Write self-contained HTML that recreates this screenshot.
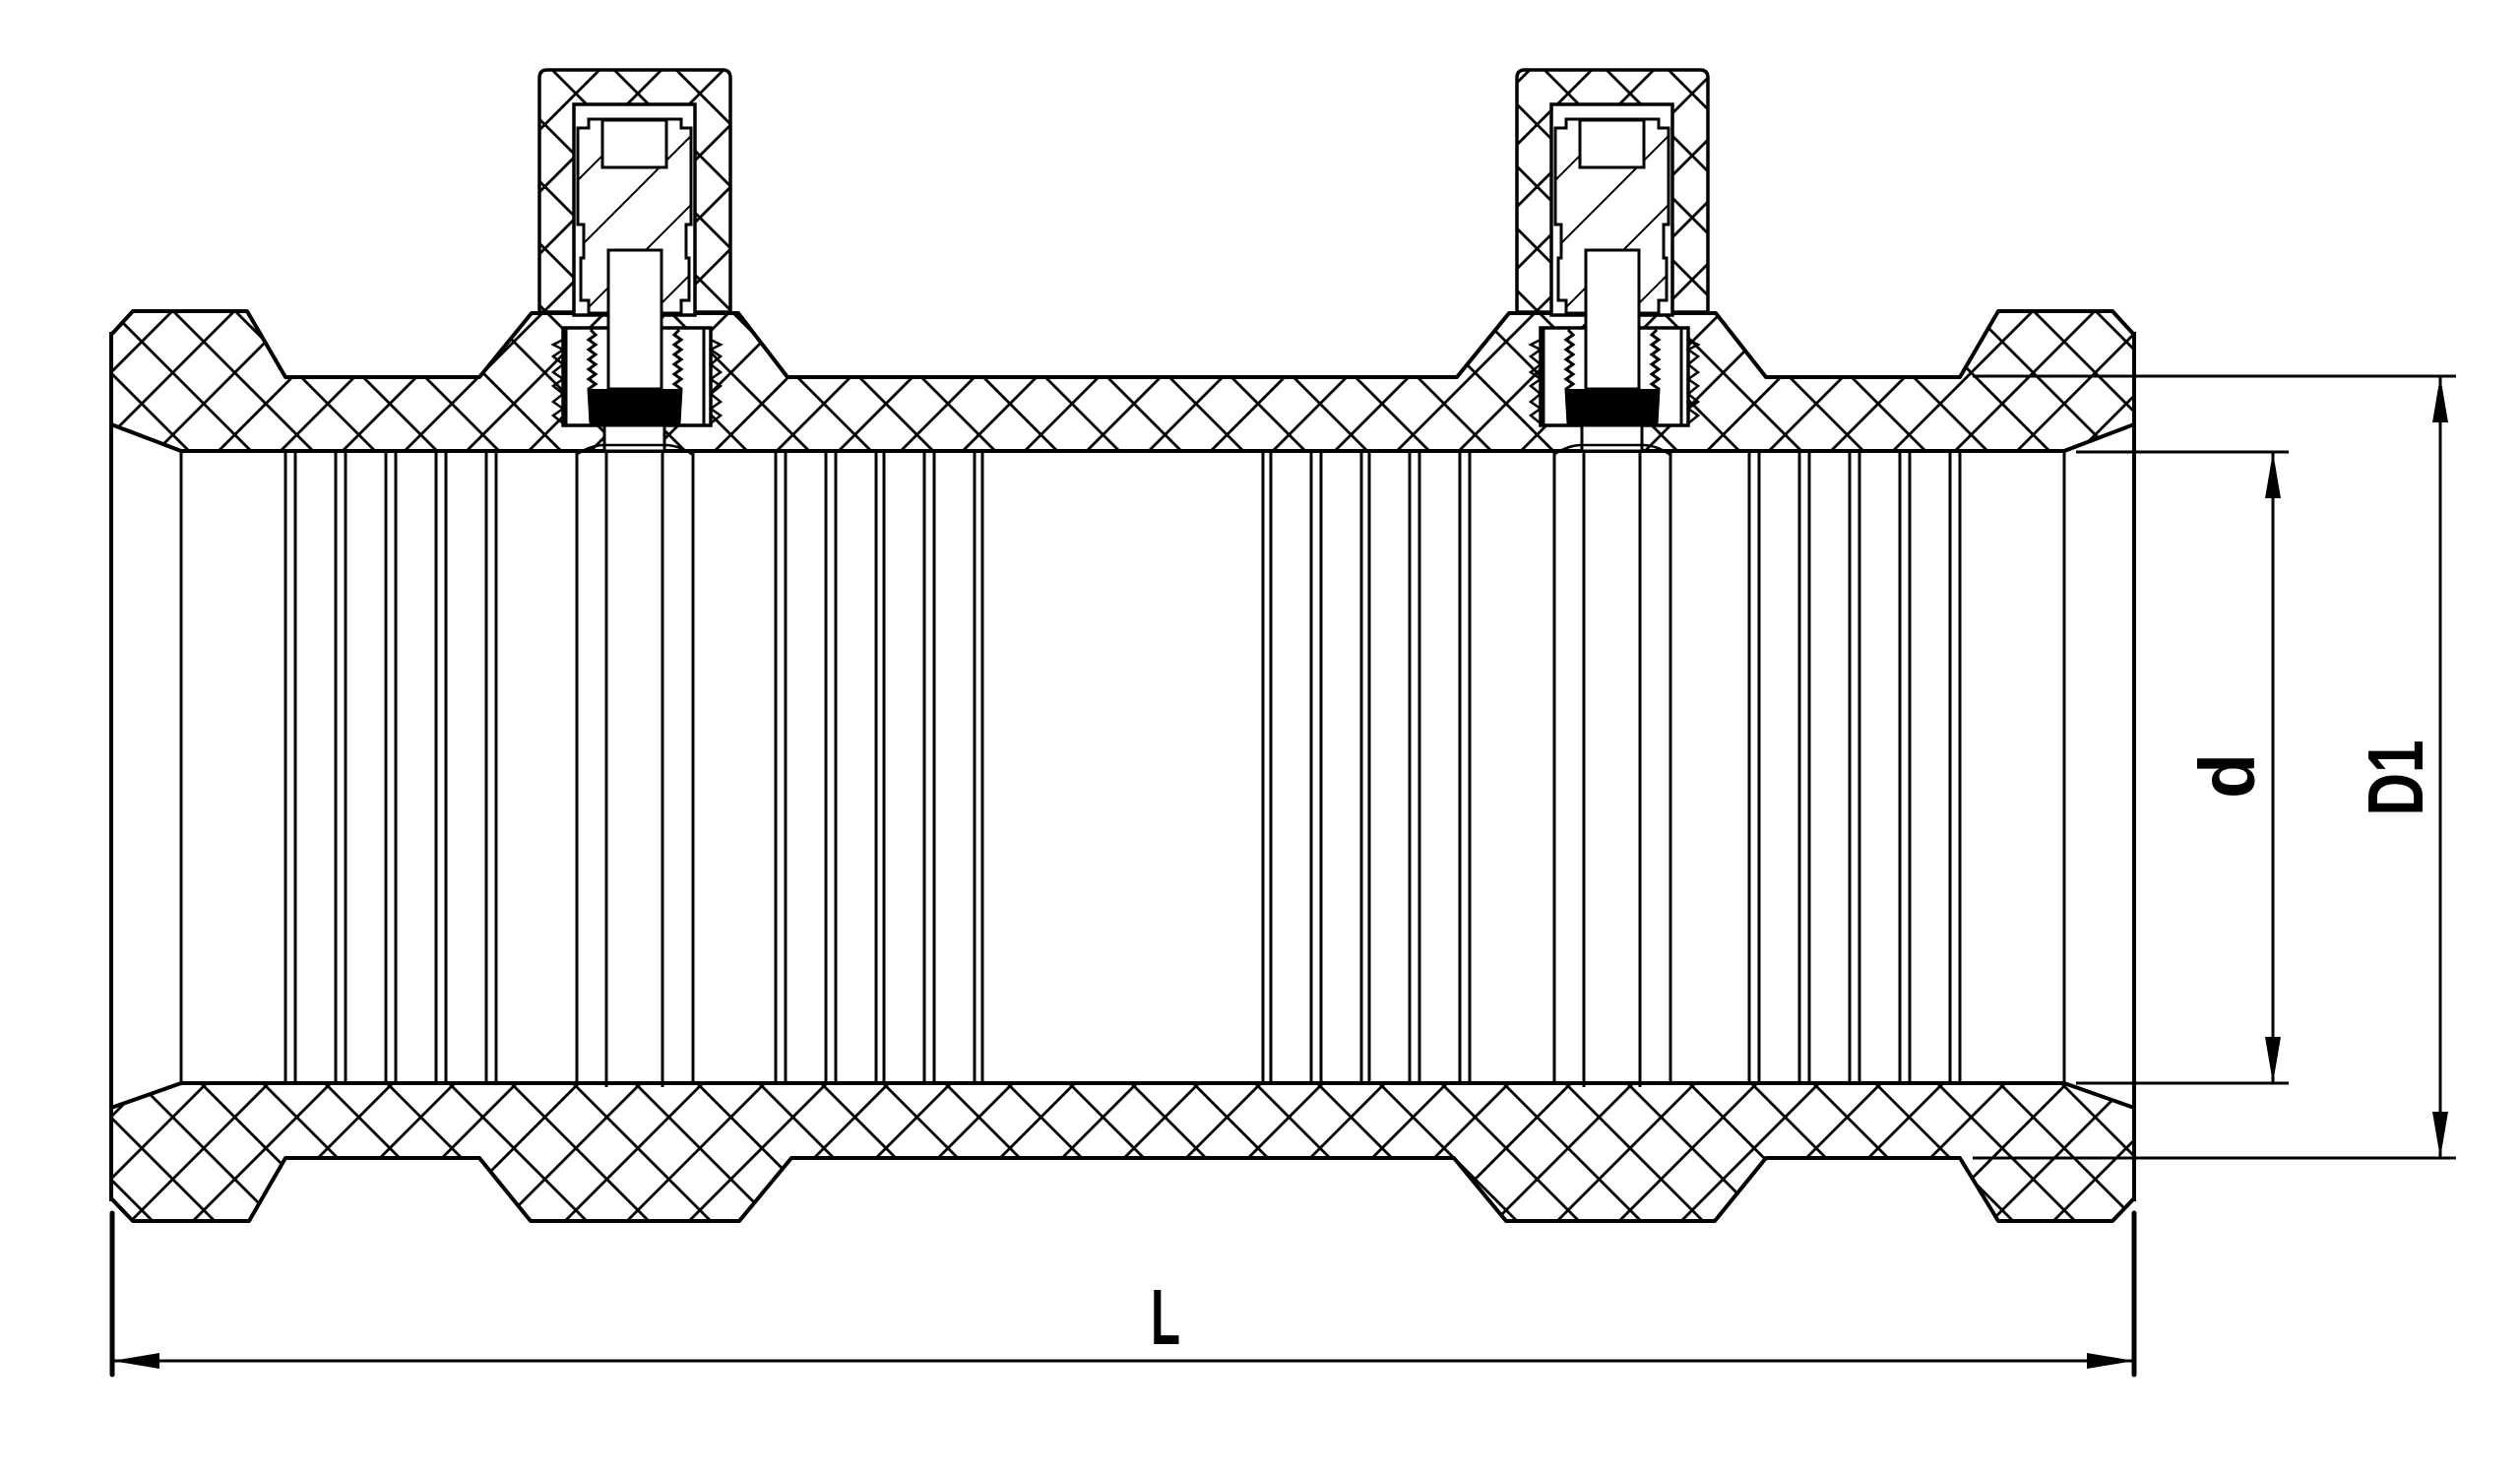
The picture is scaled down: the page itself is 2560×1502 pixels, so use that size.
<!DOCTYPE html>
<html><head><meta charset="utf-8"><style>
html,body{margin:0;padding:0;background:#fff;width:2560px;height:1502px;overflow:hidden;}
svg{display:block;overflow:hidden;}
</style></head><body>
<svg width="2560" height="1502" viewBox="0 0 2560 1502" xmlns="http://www.w3.org/2000/svg">
<defs>
<clipPath id="hc">
<path d="M113,340 L135,316 L251,316 L290,383 L487,383 L540,318 L750,318 L800,383 L1480,383 L1533,318 L1743,318 L1794,383 L1991,383 L2030,316 L2146,316 L2168,340 L2168,431 L2097,458 L184,458 L113,431 Z"/>
<path d="M113,1125 L184,1100 L2097,1100 L2168,1125 L2168,1217 L2146,1240 L2030,1240 L1991,1176 L1794,1176 L1742,1240 L1530,1240 L1477,1176 L804,1176 L751,1240 L539,1240 L487,1176 L290,1176 L253,1240 L135,1240 L113,1217 Z"/>
<path d="M556,71 L734,71 Q742,71 742,79 L742,317 L548,317 L548,79 Q548,71 556,71 Z"/>
<path d="M1549,71 L1727,71 Q1735,71 1735,79 L1735,317 L1541,317 L1541,79 Q1541,71 1549,71 Z"/>
</clipPath>
<pattern id="sh" patternUnits="userSpaceOnUse" width="70" height="70">
<path d="M0,70 L70,0 M-10,10 L10,-10 M60,80 L80,60" stroke="#000" stroke-width="2" fill="none"/>
</pattern>
<g id="boss">
  <path d="M556,71 L734,71 Q742,71 742,79 L742,317 L548,317 L548,79 Q548,71 556,71 Z" fill="none" stroke="#000" stroke-width="3.5"/>
  <rect x="583" y="106" width="123" height="214" fill="#fff" stroke="#000" stroke-width="3.5"/>
  <path d="M587,130 L598,130 L598,121 L692,121 L692,130 L702,130 L702,228 L697,228 L697,262 L700,262 L700,305 L692,305 L692,318 L598,318 L598,305 L590,305 L590,262 L593,262 L593,228 L587,228 Z" fill="url(#sh)" stroke="#000" stroke-width="3"/>
  <rect x="612" y="122" width="65" height="48" fill="#fff" stroke="#000" stroke-width="3"/>
  <rect x="572" y="333" width="150" height="99" fill="#fff" stroke="#000" stroke-width="3.5"/>
  <path d="M572,345 L562,350 L572,355 L562,362 L572,370 L562,378 L572,385 L562,392 L572,400 L562,408 L572,415 L562,422 L572,430" fill="none" stroke="#000" stroke-width="2.5"/>
  <path d="M722,345 L732,350 L722,355 L732,362 L722,370 L732,378 L722,385 L732,392 L722,400 L732,408 L722,415 L732,422 L722,430" fill="none" stroke="#000" stroke-width="2.5"/>
  <line x1="575" y1="333" x2="575" y2="432" stroke="#000" stroke-width="3"/>
  <line x1="715" y1="333" x2="715" y2="432" stroke="#000" stroke-width="3"/>
  <path d="M600,335 L605,340 L598,345 L605,350 L598,355 L605,360 L598,365 L605,370 L598,375 L605,380 L598,385 L605,390 L598,395 L600,430" fill="none" stroke="#000" stroke-width="3"/>
  <path d="M690,335 L685,340 L692,345 L685,350 L692,355 L685,360 L692,365 L685,370 L692,375 L685,380 L692,385 L685,390 L692,395 L690,430" fill="none" stroke="#000" stroke-width="3"/>
  <rect x="599" y="395" width="92" height="37" fill="#000"/>
  <rect x="618" y="254" width="54" height="141" fill="#fff" stroke="#000" stroke-width="3"/>
  <rect x="614" y="432" width="61" height="26" fill="#fff" stroke="#000" stroke-width="3"/>
  <path d="M585,462 Q600,452 614,452 L675,452 Q690,452 704,462" fill="none" stroke="#000" stroke-width="2.5"/>
</g>
</defs>

<g clip-path="url(#hc)" stroke="#000" stroke-width="2.8" fill="none">
<path d="M-100,-2228l2400,2400M-100,-2165l2400,2400M-100,-2102l2400,2400M-100,-2039l2400,2400M-100,-1976l2400,2400M-100,-1913l2400,2400M-100,-1850l2400,2400M-100,-1787l2400,2400M-100,-1724l2400,2400M-100,-1661l2400,2400M-100,-1598l2400,2400M-100,-1535l2400,2400M-100,-1472l2400,2400M-100,-1409l2400,2400M-100,-1346l2400,2400M-100,-1283l2400,2400M-100,-1220l2400,2400M-100,-1157l2400,2400M-100,-1094l2400,2400M-100,-1031l2400,2400M-100,-968l2400,2400M-100,-905l2400,2400M-100,-842l2400,2400M-100,-779l2400,2400M-100,-716l2400,2400M-100,-653l2400,2400M-100,-590l2400,2400M-100,-527l2400,2400M-100,-464l2400,2400M-100,-401l2400,2400M-100,-338l2400,2400M-100,-275l2400,2400M-100,-212l2400,2400M-100,-149l2400,2400M-100,-86l2400,2400M-100,-23l2400,2400M-100,40l2400,2400M-100,103l2400,2400M-100,166l2400,2400M-100,229l2400,2400M-100,292l2400,2400M-100,355l2400,2400M-100,418l2400,2400M-100,481l2400,2400M-100,544l2400,2400M-100,607l2400,2400M-100,670l2400,2400M-100,733l2400,2400M-100,796l2400,2400M-100,859l2400,2400M-100,922l2400,2400M-100,985l2400,2400M-100,1048l2400,2400"/>
<path d="M276,-100l-2400,2400M339,-100l-2400,2400M402,-100l-2400,2400M465,-100l-2400,2400M528,-100l-2400,2400M591,-100l-2400,2400M654,-100l-2400,2400M717,-100l-2400,2400M780,-100l-2400,2400M843,-100l-2400,2400M906,-100l-2400,2400M969,-100l-2400,2400M1032,-100l-2400,2400M1095,-100l-2400,2400M1158,-100l-2400,2400M1221,-100l-2400,2400M1284,-100l-2400,2400M1347,-100l-2400,2400M1410,-100l-2400,2400M1473,-100l-2400,2400M1536,-100l-2400,2400M1599,-100l-2400,2400M1662,-100l-2400,2400M1725,-100l-2400,2400M1788,-100l-2400,2400M1851,-100l-2400,2400M1914,-100l-2400,2400M1977,-100l-2400,2400M2040,-100l-2400,2400M2103,-100l-2400,2400M2166,-100l-2400,2400M2229,-100l-2400,2400M2292,-100l-2400,2400M2355,-100l-2400,2400M2418,-100l-2400,2400M2481,-100l-2400,2400M2544,-100l-2400,2400M2607,-100l-2400,2400M2670,-100l-2400,2400M2733,-100l-2400,2400M2796,-100l-2400,2400M2859,-100l-2400,2400M2922,-100l-2400,2400M2985,-100l-2400,2400M3048,-100l-2400,2400M3111,-100l-2400,2400M3174,-100l-2400,2400M3237,-100l-2400,2400M3300,-100l-2400,2400M3363,-100l-2400,2400M3426,-100l-2400,2400M3489,-100l-2400,2400M3552,-100l-2400,2400"/>
</g>

<path d="M113,340 L135,316 L251,316 L290,383 L487,383 L540,318 L750,318 L800,383 L1480,383 L1533,318 L1743,318 L1794,383 L1991,383 L2030,316 L2146,316 L2168,340 L2168,431 L2097,458 L184,458 L113,431 Z" fill="none" stroke="#000" stroke-width="4" stroke-linejoin="round"/>
<path d="M113,1125 L184,1100 L2097,1100 L2168,1125 L2168,1217 L2146,1240 L2030,1240 L1991,1176 L1794,1176 L1742,1240 L1530,1240 L1477,1176 L804,1176 L751,1240 L539,1240 L487,1176 L290,1176 L253,1240 L135,1240 L113,1217 Z" fill="none" stroke="#000" stroke-width="4" stroke-linejoin="round"/>
<line x1="113" y1="337" x2="113" y2="1220" stroke="#000" stroke-width="4"/>
<line x1="2168" y1="337" x2="2168" y2="1220" stroke="#000" stroke-width="4"/>
<line x1="184" y1="458" x2="184" y2="1100" stroke="#000" stroke-width="3"/>
<line x1="2097" y1="458" x2="2097" y2="1100" stroke="#000" stroke-width="3"/>

<use href="#boss"/>
<use href="#boss" transform="translate(993,0)"/>

<g stroke="#000" stroke-width="3">
<line x1="290" y1="456" x2="290" y2="1102"/><line x1="300" y1="458" x2="300" y2="1100"/>
<line x1="341" y1="456" x2="341" y2="1102"/><line x1="351" y1="458" x2="351" y2="1100"/>
<line x1="392" y1="456" x2="392" y2="1102"/><line x1="402" y1="458" x2="402" y2="1100"/>
<line x1="443" y1="456" x2="443" y2="1102"/><line x1="453" y1="458" x2="453" y2="1100"/>
<line x1="494" y1="456" x2="494" y2="1102"/><line x1="504" y1="458" x2="504" y2="1100"/>
<line x1="586" y1="460" x2="586" y2="1100"/><line x1="616" y1="458" x2="616" y2="1104"/>
<line x1="673" y1="458" x2="673" y2="1104"/><line x1="704" y1="460" x2="704" y2="1100"/>
<line x1="788" y1="456" x2="788" y2="1102"/><line x1="798" y1="458" x2="798" y2="1100"/>
<line x1="839" y1="456" x2="839" y2="1102"/><line x1="849" y1="458" x2="849" y2="1100"/>
<line x1="890" y1="456" x2="890" y2="1102"/><line x1="898" y1="458" x2="898" y2="1100"/>
<line x1="939" y1="456" x2="939" y2="1102"/><line x1="949" y1="458" x2="949" y2="1100"/>
<line x1="990" y1="456" x2="990" y2="1102"/><line x1="998" y1="458" x2="998" y2="1100"/>
<line x1="1283" y1="458" x2="1283" y2="1100"/><line x1="1291" y1="456" x2="1291" y2="1102"/>
<line x1="1332" y1="458" x2="1332" y2="1100"/><line x1="1342" y1="456" x2="1342" y2="1102"/>
<line x1="1383" y1="458" x2="1383" y2="1100"/><line x1="1391" y1="456" x2="1391" y2="1102"/>
<line x1="1432" y1="458" x2="1432" y2="1100"/><line x1="1442" y1="456" x2="1442" y2="1102"/>
<line x1="1483" y1="458" x2="1483" y2="1100"/><line x1="1493" y1="456" x2="1493" y2="1102"/>
<line x1="1579" y1="460" x2="1579" y2="1100"/><line x1="1609" y1="458" x2="1609" y2="1104"/>
<line x1="1666" y1="458" x2="1666" y2="1104"/><line x1="1697" y1="460" x2="1697" y2="1100"/>
<line x1="1777" y1="458" x2="1777" y2="1100"/><line x1="1787" y1="456" x2="1787" y2="1102"/>
<line x1="1828" y1="458" x2="1828" y2="1100"/><line x1="1838" y1="456" x2="1838" y2="1102"/>
<line x1="1879" y1="458" x2="1879" y2="1100"/><line x1="1889" y1="456" x2="1889" y2="1102"/>
<line x1="1930" y1="458" x2="1930" y2="1100"/><line x1="1940" y1="456" x2="1940" y2="1102"/>
<line x1="1981" y1="458" x2="1981" y2="1100"/><line x1="1991" y1="456" x2="1991" y2="1102"/>
</g>

<g stroke="#000" stroke-width="3">
<line x1="2004" y1="382" x2="2495" y2="382"/>
<line x1="2004" y1="1176" x2="2495" y2="1176"/>
<line x1="2109" y1="459" x2="2325" y2="459"/>
<line x1="2109" y1="1100" x2="2325" y2="1100"/>
<line x1="2309" y1="459" x2="2309" y2="1100"/>
<line x1="2479" y1="382" x2="2479" y2="1176"/>
<line x1="113" y1="1382" x2="2168" y2="1382"/>
</g>
<g stroke="#000" stroke-width="5" stroke-linecap="round">
<line x1="114" y1="1232" x2="114" y2="1396"/>
<line x1="2168" y1="1232" x2="2168" y2="1396"/>
</g>
<g fill="#000">
<path d="M2309,459 L2301,506 L2317,506 Z"/>
<path d="M2309,1100 L2301,1053 L2317,1053 Z"/>
<path d="M2479,382 L2471,429 L2487,429 Z"/>
<path d="M2479,1176 L2471,1129 L2487,1129 Z"/>
<path d="M114,1382 L162,1374 L162,1390 Z"/>
<path d="M2168,1382 L2120,1374 L2120,1390 Z"/>
</g>
<g font-family="'Liberation Sans', sans-serif" font-weight="bold" font-size="80" fill="#000" text-anchor="middle">
<text x="1184" y="1365" textLength="30" lengthAdjust="spacingAndGlyphs">L</text>
<text transform="translate(2290,788) rotate(-90)" x="0" y="0" textLength="46" lengthAdjust="spacingAndGlyphs">d</text>
<text transform="translate(2461,790) rotate(-90)" x="0" y="0" textLength="77" lengthAdjust="spacingAndGlyphs">D1</text>
</g>
</svg>
</body></html>
